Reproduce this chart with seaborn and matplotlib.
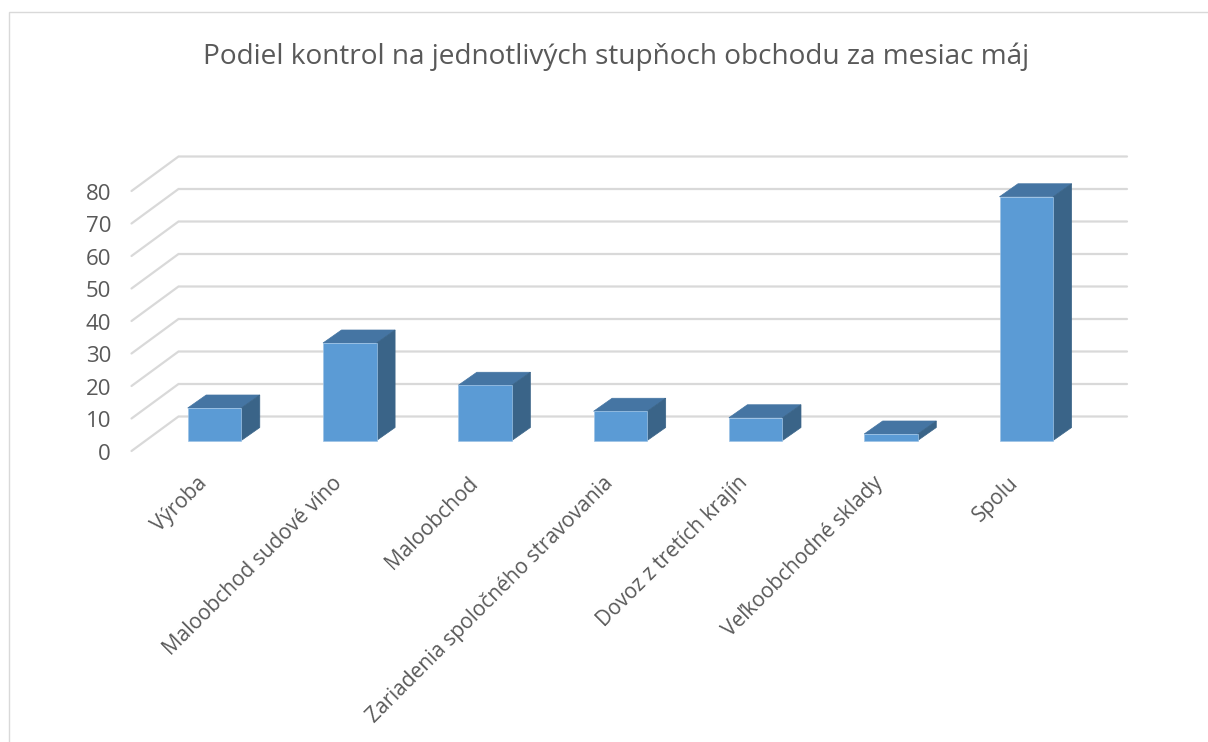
import matplotlib
matplotlib.use("Agg")
import matplotlib.pyplot as plt
from matplotlib.patches import Polygon, Rectangle
from matplotlib.transforms import ScaledTranslation
import pandas as pd
import seaborn as sns

categories = ["Výroba", "Maloobchod sudové víno", "Maloobchod",
              "Zariadenia spoločného stravovania", "Dovoz z tretích krajín",
              "Veľkoobchodné sklady", "Spolu"]
controls = [10, 30, 17, 9, 7, 2, 75]
y_ticks = [0, 10, 20, 30, 40, 50, 60, 70, 80]
title = "Podiel kontrol na jednotlivých stupňoch obchodu za mesiac máj"

W, H = 1208, 742
X0, XS = 214.5, 135.3   # pixel of category 0, pixels per category
Y0, YS = 440.5, 3.25    # pixel of value 0, pixels per unit
DX, DY = 18.5 / XS, 13 / YS   # bar depth in data units
TEXT = "#595959"
FRONT, TOP, SIDE = "#5B9BD5", "#4575A3", "#3A6488"
EDGE = "#9DC3E6"
GRID = "#D9D9D9"

sns.set_theme(style="white")
plt.rcParams["font.family"] = ["Open Sans", "DejaVu Sans"]

fig = plt.figure(figsize=(W / 100, H / 100), dpi=100, facecolor="white")
ax = fig.add_axes([0, 0, 1, 1])
ax.patch.set_alpha(0)
fig.add_artist(Rectangle((9 / W, -0.01), 1.1, 1 - 11.5 / H + 0.01, transform=fig.transFigure,
                         fill=False, edgecolor=GRID, linewidth=1.0))

df = pd.DataFrame({"cat": categories, "val": controls})

# Walls: gridlines along back wall and side wall
BACK_X0, BACK_X1 = (178.5 - X0) / XS, (1127 - X0) / XS
WALL_DX = (178.5 - 131.5) / XS
BACK_OFF = (440.5 - 416.5) / YS
FRONT_OFF = BACK_OFF - 34.5 / YS
for v in y_ticks:
    ax.plot([BACK_X0 - WALL_DX, BACK_X0, BACK_X1],
            [v + FRONT_OFF, v + BACK_OFF, v + BACK_OFF],
            color=GRID, lw=1.6, zorder=1, solid_joinstyle="miter")

hw = 0.198
sns.barplot(data=df, x="cat", y="val", color=FRONT, saturation=1, width=2 * hw,
            linewidth=0.5, edgecolor=EDGE, ax=ax, zorder=4)

for i, v in enumerate(controls):
    ax.add_patch(Polygon([(i - hw, v), (i + hw, v), (i + hw + DX, v + DY), (i - hw + DX, v + DY)],
                         closed=True, facecolor=TOP, edgecolor=TOP, lw=0.5, zorder=3))
    ax.add_patch(Polygon([(i + hw, 0), (i + hw + DX, DY), (i + hw + DX, v + DY), (i + hw, v)],
                         closed=True, facecolor=SIDE, edgecolor=SIDE, lw=0.5, zorder=3))

ax.set_xlim(-X0 / XS, (W - X0) / XS)
ax.set_ylim((Y0 - H) / YS, Y0 / YS)
ax.set_xlabel("")
ax.set_ylabel("")
for s in ax.spines.values():
    s.set_visible(False)

ax.set_yticks([v + FRONT_OFF - 0.2 for v in y_ticks], labels=[str(v) for v in y_ticks])
ax.tick_params(axis="y", direction="in", pad=-80, length=0, labelsize=16, labelcolor=TEXT)
for lab in ax.get_yticklabels():
    lab.set_ha("right")

ax.set_xticks(range(len(categories)), labels=categories)
ax.tick_params(axis="x", direction="in", length=0, labelsize=15, labelcolor=TEXT, pad=-194)
shift = ScaledTranslation(-18 / 100, 0, fig.dpi_scale_trans)
for lab in ax.get_xticklabels():
    lab.set_rotation(45)
    lab.set_ha("right")
    lab.set_va("top")
    lab.set_rotation_mode("anchor")
    lab.set_transform(lab.get_transform() + shift)

fig.text(616 / W, 1 - 56.5 / H, title, ha="center", va="center", fontsize=20.15, color=TEXT)
fig.savefig("out.png", dpi=100)
